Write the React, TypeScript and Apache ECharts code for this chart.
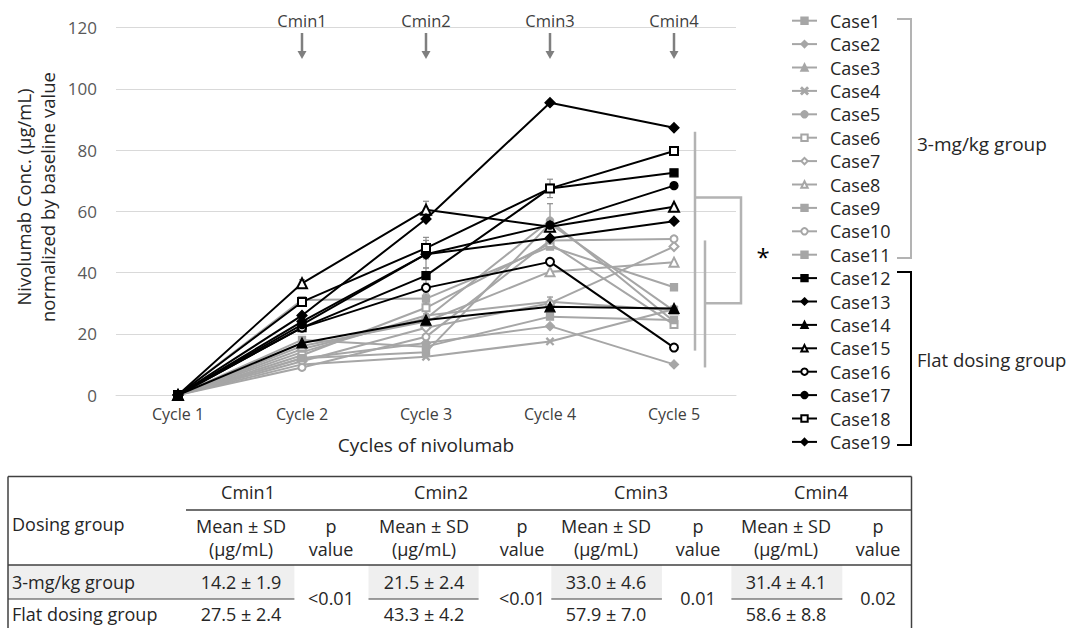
import React, { useEffect, useRef } from "react";
import * as echarts from "echarts";

const cycles = ["Cycle 1", "Cycle 2", "Cycle 3", "Cycle 4", "Cycle 5"];
const cminLabels = ["Cmin1", "Cmin2", "Cmin3", "Cmin4"];

// 3-mg/kg group
const case1 = [0, 31, 31.5, 48.5, 35.2];
const case2 = [0, 12, 17, 22.5, 10];
const case3 = [0, 14, 26, 30.5, 27.7];
const case4 = [0, 10, 12.5, 17.5, 28];
const case5 = [0, 15, 25, 57, 24];
const case6 = [0, 13, 28.5, 49.5, 23];
const case7 = [0, 11, 22, 30, 48.5];
const case8 = [0, 16, 24, 40.3, 43.4];
const case9 = [0, 12, 14, 56, 27.5];
const case10 = [0, 9, 19, 50.5, 51];
const case11 = [0, 18, 15.8, 25.6, 24.5];
// Flat dosing group
const case12 = [0, 22, 39, 67.5, 72.6];
const case13 = [0, 24, 46, 51.2, 56.8];
const case14 = [0, 17, 24.5, 28.8, 28.3];
const case15 = [0, 36.5, 60.5, 55, 61.5];
const case16 = [0, 22, 35, 43.5, 15.5];
const case17 = [0, 23, 46, 55.5, 68.4];
const case18 = [0, 30.4, 48, 67.5, 79.7];
const case19 = [0, 26, 57.5, 95.5, 87.3];

const caseNames = [
  "Case1", "Case2", "Case3", "Case4", "Case5", "Case6", "Case7", "Case8", "Case9", "Case10",
  "Case11", "Case12", "Case13", "Case14", "Case15", "Case16", "Case17", "Case18", "Case19",
];
const caseValues = [
  case1, case2, case3, case4, case5, case6, case7, case8, case9, case10,
  case11, case12, case13, case14, case15, case16, case17, case18, case19,
];
const groupSizes3mg = 11;

// error bars: [case index (1-based), cycle index, sd]
const errorBars = [
  [15, 1, 1.2], [15, 2, 2.8], [18, 2, 3.5], [17, 2, 4.5], [12, 2, 2.5],
  [12, 3, 3], [5, 3, 5.5], [3, 3, 1.5], [6, 2, 2], [1, 2, 1.5], [9, 2, 1.2],
];

// table values
const tableGroups = ["3-mg/kg group", "Flat dosing group"];
const mean3mg = ["14.2 ± 1.9", "21.5 ± 2.4", "33.0 ± 4.6", "31.4 ± 4.1"];
const meanFlat = ["27.5 ± 2.4", "43.3 ± 4.2", "57.9 ± 7.0", "58.6 ± 8.8"];
const pValues = ["<0.01", "<0.01", "0.01", "0.02"];

// bracket annotation levels (data units)
const bracketFlatRange = [14.5, 86];
const bracket3mgRange = [9, 50.5];
const bracketLinkLevels = [64.5, 30];

const GRAY = "#a6a6a6";
const BLACK = "#000000";
const FONT = "Open Sans";

const xSymbol =
  "path://M0,1L1,0L5,4L9,0L10,1L6,5L10,9L9,10L5,6L1,10L0,9L4,5Z";
const symbols = [
  "rect", "diamond", "triangle", xSymbol, "circle", "emptyRect", "emptyDiamond",
  "emptyTriangle", "rect", "emptyCircle", "rect",
  "rect", "diamond", "triangle", "emptyTriangle", "emptyCircle", "circle", "emptyRect", "diamond",
];

export default function App() {
  const ref = useRef<HTMLDivElement>(null);
  useEffect(() => {
    if (!ref.current) return;
    const chart = echarts.init(ref.current, undefined, { renderer: "svg" });
    const lineSeries = caseValues.map((vals, i) => {
      const color = i < groupSizes3mg ? GRAY : BLACK;
      const sym = symbols[i];
      const big = i >= groupSizes3mg;
      let size = big ? 8 : 7;
      if (sym.includes("riangle")) size += 2;
      if (sym.includes("iamond")) size += 2;
      return {
        type: "line",
        name: caseNames[i],
        data: vals,
        symbol: sym,
        symbolSize: size,
        showSymbol: true,
        z: big ? 4 : 3,
        lineStyle: { color, width: 2 },
        itemStyle: { color, borderColor: color, borderWidth: 1.3 },
        emphasis: { disabled: true },
      };
    });
    const errData = errorBars.map(([c, ci, sd]) => {
      const v = caseValues[c - 1][ci];
      return [ci, v - sd, v + sd, c];
    });
    const errSeries = {
      type: "custom",
      name: "err",
      z: 2,
      data: errData,
      renderItem: (params: any, api: any) => {
        const ci = api.value(0);
        const lo = api.coord([ci, api.value(1)]);
        const hi = api.coord([ci, api.value(2)]);
        const st = { stroke: "#8c8c8c", lineWidth: 1.2 };
        return {
          type: "group",
          children: [
            { type: "line", shape: { x1: lo[0], y1: lo[1], x2: hi[0], y2: hi[1] }, style: st },
            { type: "line", shape: { x1: lo[0] - 3, y1: lo[1], x2: lo[0] + 3, y2: lo[1] }, style: st },
            { type: "line", shape: { x1: hi[0] - 3, y1: hi[1], x2: hi[0] + 3, y2: hi[1] }, style: st },
          ],
        };
      },
    };

    chart.setOption({
      animation: false,
      textStyle: { fontFamily: FONT },
      grid: { left: 116, right: 333, top: 27.7, bottom: 233, outerBoundsMode: "none" },
      xAxis: {
        type: "category",
        data: cycles,
        boundaryGap: true,
        axisTick: { show: false },
        axisLine: { show: true, lineStyle: { color: "#d9d9d9", width: 1 } },
        axisLabel: { fontSize: 16, color: "#404040", margin: 11, fontFamily: FONT },
        name: "Cycles of nivolumab",
        nameLocation: "middle",
        nameGap: 40,
        nameTextStyle: { fontSize: 19, color: "#262626", fontFamily: FONT },
      },
      yAxis: {
        type: "value",
        min: 0,
        max: 120,
        interval: 20,
        axisLine: { show: false },
        axisTick: { show: false },
        axisLabel: { fontSize: 17, color: "#595959", margin: 19, fontFamily: FONT },
        splitLine: { lineStyle: { color: "#d9d9d9", width: 1 } },
      },
      legend: {
        data: caseNames,
        orient: "vertical",
        left: 786,
        top: 5.7,
        padding: 5,
        itemWidth: 25,
        itemHeight: 8,
        itemGap: 3.4,
        selectedMode: false,
        textStyle: { fontSize: 18, lineHeight: 20, color: "#262626", fontFamily: FONT, padding: [0, 0, 0, 8] },
      },
      series: [errSeries, ...lineSeries],
    });

    const px = (ci: number, v: number) =>
      chart.convertToPixel({ gridIndex: 0 }, [ci, v]) as number[];
    const g: any[] = [];
    const arrowColor = "#7f7f7f";
    cminLabels.forEach((lab, i) => {
      const x = px(i + 1, 0)[0];
      g.push({ type: "text", x, y: 20, style: { text: lab, fontSize: 16.5, fill: "#404040", fontFamily: FONT, align: "center", verticalAlign: "middle" } });
      g.push({ type: "line", shape: { x1: x, y1: 33, x2: x, y2: 53 }, style: { stroke: arrowColor, lineWidth: 2.5 } });
      g.push({ type: "polygon", shape: { points: [[x - 4.5, 51], [x + 4.5, 51], [x, 59]] }, style: { fill: arrowColor } });
    });
    // y axis name
    g.push({
      type: "text", x: 35, y: 197, rotation: Math.PI / 2,
      style: { text: "Nivolumab Conc. (µg/mL)\nnormalized by baseline value", fontSize: 18.5, lineHeight: 24, fill: "#262626", fontFamily: FONT, align: "center", verticalAlign: "middle" },
    });
    // brackets in plot
    const x5 = px(4, 0)[0];
    const l1 = x5 + 21, l2 = x5 + 31, br = x5 + 67;
    const bs = { stroke: "#b3b3b3", lineWidth: 2.5 };
    g.push({ type: "line", shape: { x1: l1, y1: px(4, bracketFlatRange[1])[1], x2: l1, y2: px(4, bracketFlatRange[0])[1] }, style: bs });
    g.push({ type: "line", shape: { x1: l2, y1: px(4, bracket3mgRange[1])[1], x2: l2, y2: px(4, bracket3mgRange[0])[1] }, style: bs });
    const yA = px(4, bracketLinkLevels[0])[1], yB = px(4, bracketLinkLevels[1])[1];
    g.push({ type: "polyline", shape: { points: [[l1, yA], [br, yA], [br, yB], [l2, yB]] }, style: { ...bs, fill: null } });
    g.push({ type: "text", x: br + 22, y: (yA + yB) / 2 + 6, style: { text: "*", fontSize: 24, fill: "#000", fontFamily: FONT, align: "center", verticalAlign: "middle" } });
    // legend brackets
    g.push({ type: "polyline", shape: { points: [[897, 19], [911, 19], [911, 258], [897, 258]] }, style: { stroke: "#b3b3b3", lineWidth: 2, fill: null } });
    g.push({ type: "polyline", shape: { points: [[897, 272], [911, 272], [911, 445], [897, 445]] }, style: { stroke: "#000", lineWidth: 2, fill: null } });
    g.push({ type: "text", x: 917, y: 144, style: { text: "3-mg/kg group", fontSize: 19, fill: "#262626", fontFamily: FONT, align: "left", verticalAlign: "middle" } });
    g.push({ type: "text", x: 917, y: 359, style: { text: "Flat dosing group", fontSize: 18.5, fill: "#262626", fontFamily: FONT, align: "left", verticalAlign: "middle" } });

    // table
    const tL = 8, tR = 911.5, tTop = 476.5, tBot = 640;
    const meanC = [241, 424, 606, 786];
    const pC = [331, 522, 698, 878];
    const cminC = [248, 441, 641, 821];
    const shade = [[8, 294.4], [368.5, 478.6], [551.3, 661.9], [731.4, 842.3]];
    const rowTop = 565, rowMid = 599;
    const ts = (text: string, x: number, y: number, align = "center") => ({
      type: "text", x, y, z: 10,
      style: { text, fontSize: 18, fill: "#262626", fontFamily: FONT, align, verticalAlign: "middle" },
    });
    const ln = (x1: number, y1: number, x2: number, y2: number, w = 1.5) => ({
      type: "line", z: 9, shape: { x1, y1, x2, y2 }, style: { stroke: "#404040", lineWidth: w },
    });
    shade.forEach(([a, b]) => g.push({ type: "rect", z: 5, shape: { x: a, y: rowTop, width: b - a, height: rowMid - rowTop }, style: { fill: "#efefef" } }));
    g.push(ln(tL, tTop, tR, tTop));
    g.push(ln(tL, tTop, tL, tBot));
    g.push(ln(tR, tTop, tR, tBot));
    g.push(ln(186, 510, tR, 510));
    g.push(ln(tL, rowTop, tR, rowTop));
    shade.forEach(([a, b]) => g.push(ln(a, rowMid, b, rowMid, 1.2)));
    cminLabels.forEach((lab, i) => {
      g.push(ts(lab, cminC[i], 492));
      g.push(ts("Mean ± SD", meanC[i], 526));
      g.push(ts("(µg/mL)", meanC[i], 549));
      g.push(ts("p", pC[i], 526));
      g.push(ts("value", pC[i], 549));
      g.push(ts(mean3mg[i], meanC[i], 582));
      g.push(ts(meanFlat[i], meanC[i], 614));
      g.push(ts(pValues[i], pC[i], 598));
    });
    g.push(ts("Dosing group", 12, 524, "left"));
    g.push(ts(tableGroups[0], 12, 582, "left"));
    g.push(ts(tableGroups[1], 12, 614, "left"));

    chart.setOption({ graphic: g });
    return () => chart.dispose();
  }, []);
  return (
    <div
      ref={ref}
      style={{ position: "absolute", left: 0, top: 0, width: 1069, height: 628, background: "#fff" }}
    />
  );
}
